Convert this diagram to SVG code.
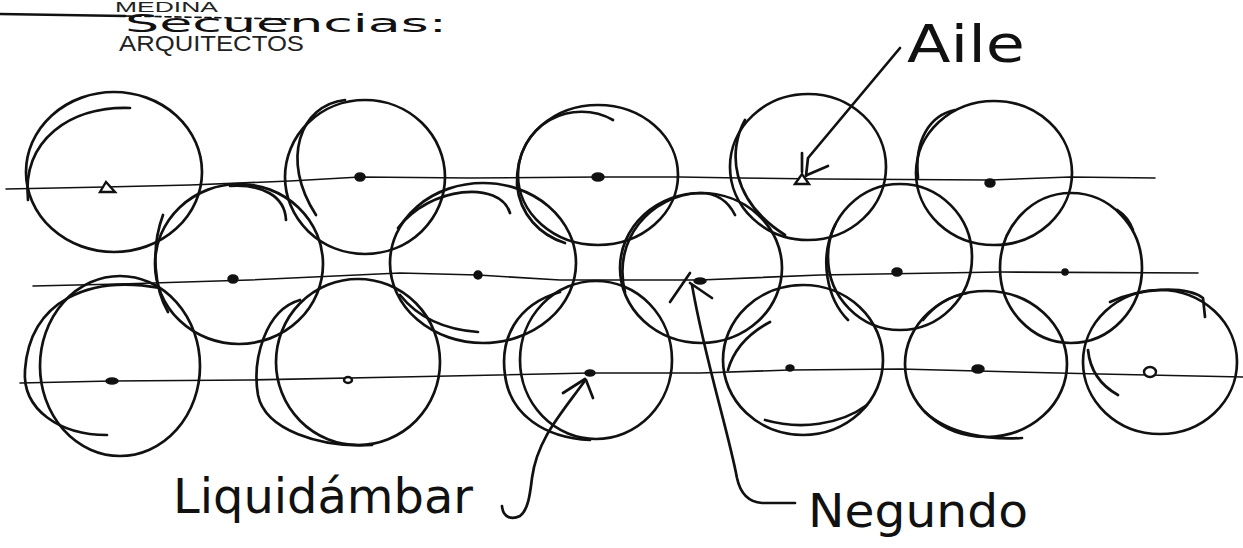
<svg xmlns="http://www.w3.org/2000/svg" width="1243" height="548" viewBox="0 0 1243 548">
<style>
.s{fill:none;stroke:#111;stroke-width:2.7;stroke-linecap:round;stroke-linejoin:round}
.t{fill:none;stroke:#111;stroke-width:1.6;stroke-linecap:round}
.d{fill:#111;stroke:#111;stroke-width:1.5}
.o{fill:#fff;stroke:#111;stroke-width:2.4}
.hw{font-family:"DejaVu Sans","Liberation Sans",sans-serif;fill:#111}
.pr{font-family:"Liberation Sans",Arial,sans-serif;fill:#222}
</style>
<rect width="1243" height="548" fill="#fff"/>

<g id="header">
<text class="pr" x="115" y="12" font-size="15" textLength="103" lengthAdjust="spacingAndGlyphs">MEDINA</text>
<text class="pr" x="119" y="51" font-size="22" textLength="185" lengthAdjust="spacingAndGlyphs">ARQUITECTOS</text>
<path class="s" d="M0 14 L125 16" stroke-width="2"/>
<path class="t" d="M125 16 L290 19" stroke-dasharray="6 4" stroke-width="1.2"/>
<text class="hw" x="125" y="32" font-size="25" textLength="322" lengthAdjust="spacingAndGlyphs">Secuencias:</text>
</g>

<g id="rows">
<polyline class="t" points="6,189 105,187 190,185 290,181 360,177 470,178 598,177 680,177 740,178 820,179 990,180 1070,177 1155,178"/>
<polyline class="t" points="33,286 120,284 250,280 400,273 478,275 560,280 700,280 820,275 1000,272 1198,273"/>
<polyline class="t" points="20,383 112,381 250,380 400,377 590,373 700,373 790,370 900,369 978,371 1100,374 1243,377"/>
</g>

<g id="tree-t1">
<ellipse class="s" cx="114" cy="172" rx="88" ry="80"/>
<path class="s" d="M28 200 C22 140 70 106 130 108"/>
<path class="o" d="M100 192 L106 182 L115 192 Z"/>
</g>
<g id="tree-t2">
<ellipse class="s" cx="365" cy="177" rx="80" ry="77"/>
<path class="s" d="M345 100 C300 105 280 160 316 215"/>
<ellipse class="d" cx="360" cy="177" rx="5" ry="4"/>
</g>
<g id="tree-t3">
<ellipse class="s" cx="598" cy="175" rx="80" ry="70"/>
<path class="s" d="M613 120 C575 98 515 120 517 185 C520 215 540 235 565 243"/>
<ellipse class="d" cx="598" cy="177" rx="6" ry="4"/>
</g>
<g id="tree-t4">
<ellipse class="s" cx="808" cy="167" rx="78" ry="73"/>
<path class="s" d="M745 120 C728 150 730 200 785 235"/>
<path class="o" d="M795 184 L802 174 L809 184 Z"/>
</g>
<g id="tree-t5">
<ellipse class="s" cx="994" cy="173" rx="78" ry="72"/>
<path class="s" d="M918 178 C914 140 930 115 955 110"/>
<ellipse class="d" cx="990" cy="183" rx="5" ry="4"/>
</g>

<g id="tree-m1">
<ellipse class="s" cx="239" cy="264" rx="84" ry="80"/>
<path class="s" d="M230 186 C262 184 285 196 286 220"/>
<path class="s" d="M163 215 C150 250 155 290 168 312"/>
<ellipse class="d" cx="233" cy="279" rx="5" ry="4"/>
</g>
<g id="tree-m2">
<ellipse class="s" cx="483" cy="263" rx="93" ry="80"/>
<path class="s" d="M398 228 C430 186 500 180 510 213"/>
<path class="s" d="M400 295 C420 320 450 330 478 332"/>
<ellipse class="d" cx="478" cy="275" rx="4" ry="4"/>
</g>
<g id="tree-m3">
<ellipse class="s" cx="701" cy="268" rx="81" ry="75"/>
<path class="s" d="M625 292 C612 240 650 195 700 193 C720 193 730 205 735 215"/>
<ellipse class="d" cx="700" cy="281" rx="6" ry="3"/>
</g>
<g id="tree-m4">
<ellipse class="s" cx="900" cy="257" rx="72" ry="73"/>
<path class="s" d="M835 225 C818 260 828 300 848 320"/>
<ellipse class="d" cx="897" cy="272" rx="5" ry="4"/>
</g>
<g id="tree-m5">
<ellipse class="s" cx="1071" cy="268" rx="71" ry="75"/>
<path class="s" d="M1117 210 C1125 215 1130 222 1133 230"/>
<circle class="d" cx="1065" cy="272" r="3"/>
</g>

<g id="tree-b1">
<ellipse class="s" cx="120" cy="366" rx="80" ry="90"/>
<path class="s" d="M160 288 C90 275 30 300 25 370 C22 410 60 435 107 435"/>
<ellipse class="d" cx="112" cy="381" rx="6" ry="3"/>
</g>
<g id="tree-b2">
<ellipse class="s" cx="358" cy="362" rx="82" ry="83"/>
<path class="s" d="M300 300 C265 310 252 360 258 395 C265 430 320 448 372 445"/>
<ellipse class="o" cx="348" cy="380" rx="4" ry="3"/>
</g>
<g id="tree-b3">
<ellipse class="s" cx="596" cy="360" rx="76" ry="79"/>
<path class="s" d="M560 292 C515 305 500 340 505 375 C510 415 545 438 590 440"/>
<ellipse class="d" cx="590" cy="373" rx="5" ry="3"/>
</g>
<g id="tree-b4">
<ellipse class="s" cx="803" cy="360" rx="80" ry="75"/>
<path class="s" d="M867 405 C840 425 800 430 765 420"/>
<path class="s" d="M770 322 C755 330 735 345 728 370"/>
<ellipse class="d" cx="790" cy="368" rx="4" ry="3"/>
</g>
<g id="tree-b5">
<ellipse class="s" cx="986" cy="364" rx="81" ry="73"/>
<path class="s" d="M925 412 C950 435 990 440 1022 438"/>
<path class="s" d="M923 320 C935 305 950 296 967 293"/>
<ellipse class="d" cx="978" cy="369" rx="6" ry="4"/>
</g>
<g id="tree-b6">
<ellipse class="s" cx="1160" cy="362" rx="77" ry="72"/>
<path class="s" d="M1110 302 C1140 288 1185 285 1203 298 L1205 317"/>
<path class="s" d="M1088 350 C1090 370 1100 385 1118 395"/>
<ellipse class="o" cx="1150" cy="372" rx="6" ry="5"/>
</g>

<g id="connectors">
<path class="s" d="M900 48 L808 158 L806 176"/>
<path class="s" d="M802 153 L802 172"/>
<path class="s" d="M828 166 L807 175"/>
<path class="s" d="M795 503 L762 503 C748 502 740 492 737 478 C728 430 705 360 692 285"/>
<path class="s" d="M670 302 L690 273 M712 298 L690 283"/>
<path class="s" d="M502 506 C503 518 512 520 520 516 C528 510 530 495 532 478 C537 440 560 415 584 382"/>
<path class="s" d="M563 393 L585 379 M593 398 L586 380"/>
</g>

<g id="labels">
<text class="hw" x="907" y="62" font-size="52" textLength="118" lengthAdjust="spacingAndGlyphs">Aile</text>
<text class="hw" x="173" y="513" font-size="48" textLength="300" lengthAdjust="spacingAndGlyphs">Liquidámbar</text>
<text class="hw" x="808" y="527" font-size="46" textLength="220" lengthAdjust="spacingAndGlyphs">Negundo</text>
</g>
</svg>
